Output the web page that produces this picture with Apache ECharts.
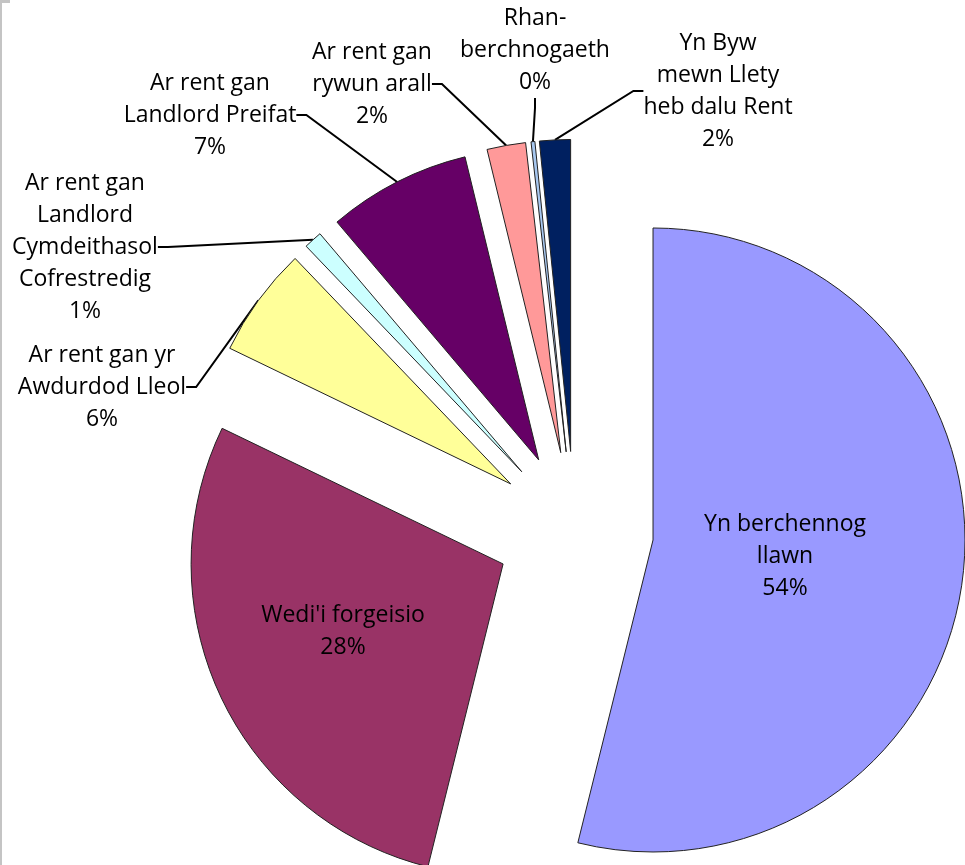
<!DOCTYPE html>
<html>
<head>
<meta charset="utf-8">
<script src="https://cdn.jsdelivr.net/npm/echarts@6/dist/echarts.min.js"></script>
<style>
html,body{margin:0;padding:0;background:#fff;}
#chart{width:965px;height:865px;position:relative;}
#edge{position:absolute;left:0;top:0;width:2px;height:865px;background:#c4c4c4;}
#edge2{position:absolute;left:0;top:0;width:10px;height:3px;background:#c4c4c4;}
</style>
</head>
<body>
<div id="chart"></div>
<div id="edge"></div><div id="edge2"></div>
<script>
// ---- data ----
const categories = [
  'Yn berchennog llawn',
  "Wedi'i forgeisio",
  'Ar rent gan yr Awdurdod Lleol',
  'Ar rent gan Landlord Cymdeithasol Cofrestredig',
  'Ar rent gan Landlord Preifat',
  'Ar rent gan rywun arall',
  'Rhan-berchnogaeth',
  'Yn Byw mewn Llety heb dalu Rent'
];
const labelTexts = [
  'Yn berchennog\nllawn',
  "Wedi'i forgeisio",
  'Ar rent gan yr\nAwdurdod Lleol',
  'Ar rent gan\nLandlord\nCymdeithasol\nCofrestredig',
  'Ar rent gan\nLandlord Preifat',
  'Ar rent gan\nrywun arall',
  'Rhan-\nberchnogaeth',
  'Yn Byw\nmewn Llety\nheb dalu Rent'
];
const values = [53.9, 28.3, 5.7, 0.95, 7.4, 2.0, 0.2, 1.6];

// ---- styling ----
const colors = ['#9999FF', '#993366', '#FFFF99', '#CCFFFF', '#660066', '#FF9999', '#A8C8F0', '#002060'];
const labelPos = [
  [785, 556], [343, 631], [102, 387], [85, 247], [210, 115], [372, 84], [535, 50], [718, 91]
];
const insideIdx = [0, 1];
const CENTER = [574.6, 530.4];
const R = 312;
const EXPLODE = 79;

const chart = echarts.init(document.getElementById('chart'), null, {renderer: 'canvas'});

chart.setOption({
  animation: false,
  backgroundColor: '#ffffff',
  series: [{
    type: 'pie',
    center: CENTER,
    radius: R,
    startAngle: 90,
    clockwise: true,
    selectedMode: 'multiple',
    selectedOffset: EXPLODE,
    silent: true,
    emphasis: {disabled: true},
    itemStyle: {borderColor: '#222222', borderWidth: 1},
    select: {itemStyle: {borderColor: '#222222', borderWidth: 1}},
    label: {show: false},
    labelLine: {show: false},
    data: values.map((v, i) => ({name: categories[i], value: v, selected: true, itemStyle: {color: colors[i]}}))
  }, {
    // transparent copy at the exploded radius, carrying the labels
    type: 'pie',
    center: CENTER,
    radius: R + EXPLODE,
    startAngle: 90,
    clockwise: true,
    silent: true,
    emphasis: {disabled: true},
    avoidLabelOverlap: false,
    itemStyle: {color: 'rgba(0,0,0,0)', borderWidth: 0},
    label: {
      show: true,
      position: 'outside',
      fontFamily: 'Open Sans',
      fontSize: 23,
      lineHeight: 32,
      color: '#000000',
      formatter: p => labelTexts[p.dataIndex] + '\n' + Math.round(p.percent) + '%'
    },
    labelLine: {show: true, length: 10, length2: 10, smooth: false, lineStyle: {color: '#000000', width: 2}},
    labelLayout: function (params) {
      const pos = labelPos[params.dataIndex];
      return {x: pos[0], y: pos[1], align: 'center', verticalAlign: 'middle'};
    },
    data: values.map((v, i) => ({name: categories[i], value: v, labelLine: {show: insideIdx.indexOf(i) < 0}}))
  }]
});
</script>
</body>
</html>
